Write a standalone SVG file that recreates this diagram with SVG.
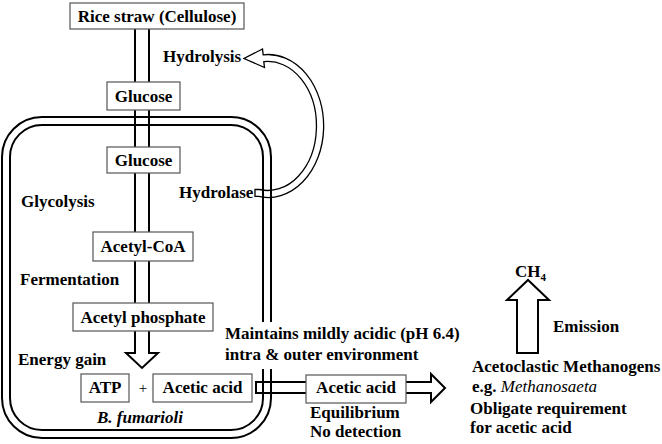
<svg xmlns="http://www.w3.org/2000/svg" width="662" height="444" viewBox="0 0 662 444" font-family="Liberation Serif, serif">
<style>
  text, tspan { font-family: 'Liberation Serif', 'Times New Roman', serif !important; }
</style>
<rect width="662" height="444" fill="#fff"/>

<g id="cell" fill="none" stroke="#000" stroke-width="2">
  <path d="M271,322 L271,157 A40,40 0 0 0 231,117 L42,117 A40,40 0 0 0 2,157 L2,398 A40,40 0 0 0 42,438 L231,438 A40,40 0 0 0 271,398 L271,369"/>
  <path d="M263,322 L263,157 A32,32 0 0 0 231,125 L42,125 A32,32 0 0 0 10,157 L10,398 A32,32 0 0 0 42,430 L231,430 A32,32 0 0 0 263,398 L263,369"/>
</g>
<text x="140" y="423" text-anchor="middle" style="font-family:'Liberation Serif',serif;font-size:17px;font-weight:bold;font-style:italic">B. fumarioli</text>

<g id="connectors" fill="none" stroke="#000" stroke-width="2">
  <path d="M135,29 L135,353 L126,353 L142,368 L158,353 L149,353 L149,29"/>
  <path stroke-width="1.3" d="M255,196.4 L258.4,196.4 A55.5,71.5 0 1 0 263.2,54.8 L262.5,49 L244,58.5 L264.5,67.5 L263.8,61.7 A48.5,64.5 0 1 1 259.6,189.5 L255,189.5 Z"/>
  <path d="M256,382 L431,382 L431,374 L445,388 L431,402 L431,393 L256,393 Z"/>
  <path d="M517,353 L517,300 L507,300 L528,280 L549,300 L538,300 L538,353 Z"/>
</g>

<g id="rice-straw">
  <rect fill="#fff" stroke="#555" stroke-width="1.2" x="70" y="3" width="174" height="26"/>
  <text x="157" y="22" text-anchor="middle" style="font-family:'Liberation Serif',serif;font-size:17px;font-weight:bold">Rice straw (Cellulose)</text>
</g>
<g id="glucose-out">
  <rect fill="#fff" stroke="#555" stroke-width="1.2" x="107" y="82" width="73" height="28"/>
  <text x="143.5" y="102" text-anchor="middle" style="font-family:'Liberation Serif',serif;font-size:17px;font-weight:bold">Glucose</text>
</g>
<g id="glucose-in">
  <rect fill="#fff" stroke="#555" stroke-width="1.2" x="107" y="147" width="73" height="26"/>
  <text x="143.5" y="166" text-anchor="middle" style="font-family:'Liberation Serif',serif;font-size:17px;font-weight:bold">Glucose</text>
</g>
<g id="acetyl-coa">
  <rect fill="#fff" stroke="#555" stroke-width="1.2" x="93" y="232" width="100" height="29"/>
  <text x="143" y="252" text-anchor="middle" style="font-family:'Liberation Serif',serif;font-size:17px;font-weight:bold">Acetyl-CoA</text>
</g>
<g id="acetyl-phosphate">
  <rect fill="#fff" stroke="#555" stroke-width="1.2" x="73" y="303" width="140" height="28"/>
  <text x="143" y="323" text-anchor="middle" style="font-family:'Liberation Serif',serif;font-size:17px;font-weight:bold">Acetyl phosphate</text>
</g>
<g id="atp">
  <rect fill="#fff" stroke="#555" stroke-width="1.2" x="81" y="374" width="48" height="28"/>
  <text x="105" y="393" text-anchor="middle" style="font-family:'Liberation Serif',serif;font-size:17px;font-weight:bold">ATP</text>
</g>
<text x="143" y="393" text-anchor="middle" style="font-family:'Liberation Serif',serif;font-size:15px">+</text>
<g id="acetic-acid-in">
  <rect fill="#fff" stroke="#555" stroke-width="1.2" x="153" y="374" width="99" height="28"/>
  <text x="202.5" y="393" text-anchor="middle" style="font-family:'Liberation Serif',serif;font-size:17px;font-weight:bold">Acetic acid</text>
</g>
<g id="acetic-acid-out">
  <rect fill="#fff" stroke="#555" stroke-width="1.2" x="306" y="375" width="100" height="28"/>
  <text x="356" y="393" text-anchor="middle" style="font-family:'Liberation Serif',serif;font-size:17px;font-weight:bold">Acetic acid</text>
</g>

<g id="labels">
  <text x="163" y="62" style="font-family:'Liberation Serif',serif;font-size:17px;font-weight:bold">Hydrolysis</text>
  <text x="179" y="198" style="font-family:'Liberation Serif',serif;font-size:17px;font-weight:bold">Hydrolase</text>
  <text x="21" y="207" style="font-family:'Liberation Serif',serif;font-size:17px;font-weight:bold">Glycolysis</text>
  <text x="20" y="285" style="font-family:'Liberation Serif',serif;font-size:17px;font-weight:bold">Fermentation</text>
  <text x="18" y="365" style="font-family:'Liberation Serif',serif;font-size:17px;font-weight:bold">Energy gain</text>
  <text x="225" y="339" style="font-family:'Liberation Serif',serif;font-size:17px;font-weight:bold">Maintains mildly acidic (pH 6.4)</text>
  <text x="225" y="360" style="font-family:'Liberation Serif',serif;font-size:17px;font-weight:bold">intra &amp; outer environment</text>
  <text x="310" y="418" style="font-family:'Liberation Serif',serif;font-size:17px;font-weight:bold">Equilibrium</text>
  <text x="310" y="437" style="font-family:'Liberation Serif',serif;font-size:17px;font-weight:bold">No detection</text>
</g>

<g id="methanogens">
  <text x="515" y="277" style="font-family:'Liberation Serif',serif;font-size:17px;font-weight:bold">CH<tspan style="font-size:11px" dy="4">4</tspan></text>
  <text x="553" y="332" style="font-family:'Liberation Serif',serif;font-size:17px;font-weight:bold">Emission</text>
  <text x="472" y="372" style="font-family:'Liberation Serif',serif;font-size:17px;font-weight:bold">Acetoclastic Methanogens</text>
  <text x="472" y="392" style="font-family:'Liberation Serif',serif;font-size:17px;font-weight:bold">e.g. <tspan style="font-style:italic;font-weight:normal">Methanosaeta</tspan></text>
  <text x="470" y="414" style="font-family:'Liberation Serif',serif;font-size:17px;font-weight:bold">Obligate requirement</text>
  <text x="470" y="433" style="font-family:'Liberation Serif',serif;font-size:17px;font-weight:bold">for acetic acid</text>
</g>
</svg>
